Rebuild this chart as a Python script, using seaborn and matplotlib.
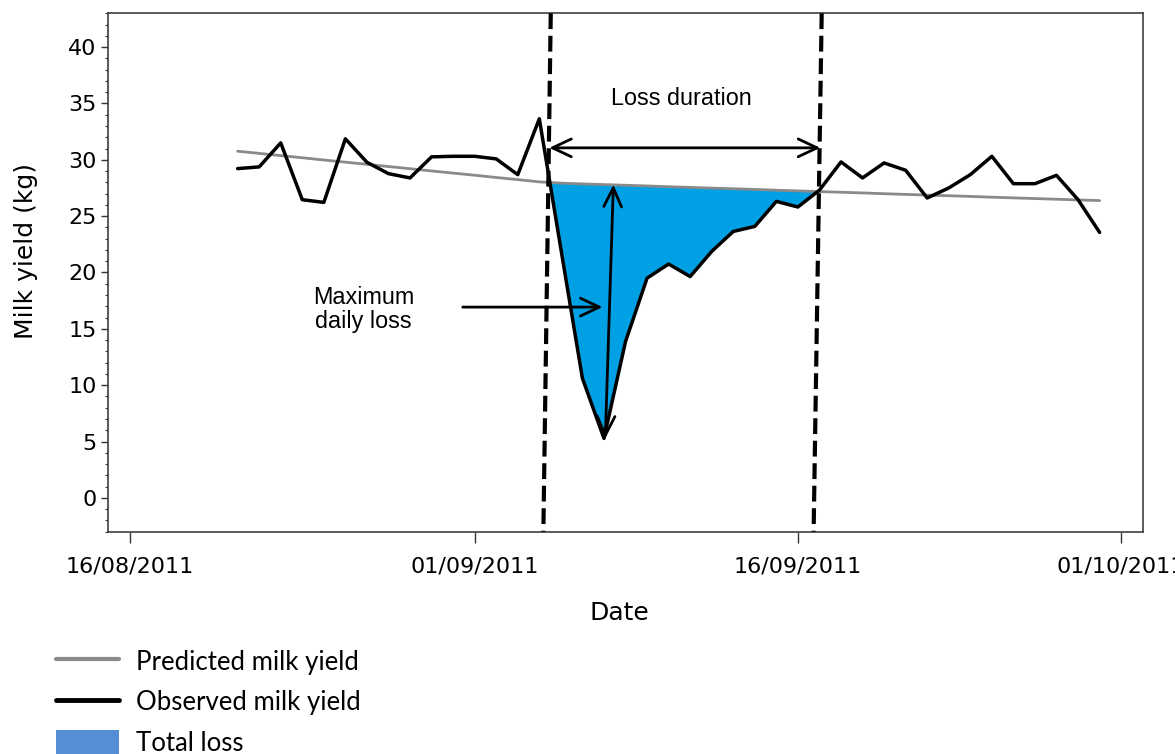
import numpy as np
import pandas as pd
import matplotlib
matplotlib.use("Agg")
import matplotlib.pyplot as plt
import matplotlib.dates as mdates
from matplotlib.ticker import MultipleLocator
from matplotlib.lines import Line2D
from matplotlib.patches import Patch
import seaborn as sns

# Daily milk yield of one cow, 21/08/2011 - 30/09/2011 (kg)
dates = pd.date_range("2011-08-21", "2011-09-30", freq="D")
observed = [29.22, 29.37, 31.50, 26.46, 26.22, 31.86, 29.78, 28.77, 28.39, 30.26,
            30.31, 30.31, 30.08, 28.68, 33.64, 22.10, 10.61, 5.28, 13.87, 19.50,
            20.75, 19.64, 21.87, 23.64, 24.09, 26.31, 25.81, 27.31, 29.81, 28.39,
            29.72, 29.07, 26.61, 27.50, 28.68, 30.31, 27.88, 27.88, 28.62, 26.46, 23.56]
predicted = [30.76, 30.57, 30.37, 30.18, 29.98, 29.79, 29.60, 29.40, 29.21, 29.01,
             28.82, 28.63, 28.43, 28.24, 28.04, 27.93, 27.86, 27.80, 27.74, 27.68,
             27.61, 27.55, 27.49, 27.43, 27.37, 27.30, 27.24, 27.18, 27.12, 27.06,
             26.99, 26.93, 26.87, 26.81, 26.75, 26.68, 26.62, 26.56, 26.50, 26.44, 26.38]

# Loss episode boundaries (start / end of the yield drop)
loss_first_day = pd.Timestamp("2011-09-04")
loss_last_day = pd.Timestamp("2011-09-17")
start_line = [pd.Timestamp("2011-09-04 12:45"), pd.Timestamp("2011-09-04 04:30")]
end_line = [pd.Timestamp("2011-09-17 02:30"), pd.Timestamp("2011-09-16 17:30")]

tick_dates = pd.to_datetime(["2011-08-16", "2011-09-01", "2011-09-16", "2011-10-01"])

df = pd.DataFrame({"date": dates, "observed": observed, "predicted": predicted})

sns.set_style("white")
plt.rcParams["font.family"] = ["DejaVu Sans"]
plt.rcParams["text.color"] = "black"
plt.rcParams["axes.labelcolor"] = "black"
plt.rcParams["xtick.labelcolor"] = "black"
plt.rcParams["ytick.labelcolor"] = "black"

GREY = "#8a8a8a"
FILL = "#00A1E4"
LEGEND_FILL = "#558ED5"
ANNOT_FONT = {"family": "Liberation Sans", "size": 16.8, "color": "black"}

fig = plt.figure(figsize=(11.75, 7.54), dpi=100)
ax = fig.add_axes([0.0922, 0.2948, 0.8803, 0.6876])

ylim = (-3, 43)
ax.set_xlim(pd.Timestamp("2011-08-15"), pd.Timestamp("2011-10-02"))
ax.set_ylim(*ylim)

# Total loss area between predicted and observed during the episode
in_loss = (df["date"] >= loss_first_day) & (df["date"] <= loss_last_day)
seg = df[in_loss]
ax.fill_between(seg["date"], seg["observed"], seg["predicted"],
                where=seg["observed"] < seg["predicted"], interpolate=True,
                color=FILL, lw=0, zorder=2)

sns.lineplot(data=df, x="date", y="predicted", color=GREY, lw=2.0, ax=ax, zorder=3)
sns.lineplot(data=df, x="date", y="observed", color="black", lw=2.5, ax=ax, zorder=4)

# Dashed boundaries of the loss episode
for line in (start_line, end_line):
    ax.plot(line, [ylim[1], ylim[0]], color="black", lw=3.0,
            linestyle=(0, (3.8, 1.6)), zorder=5, clip_on=False)

arrow_kw = dict(lw=2.0, color="black", shrinkA=0, shrinkB=0, mutation_scale=20)

# Loss duration arrow
arrow_y = 31.06
ax.annotate("", xy=(pd.Timestamp("2011-09-04 11:00"), arrow_y),
            xytext=(pd.Timestamp("2011-09-17 01:00"), arrow_y),
            arrowprops=dict(arrowstyle="<->,head_length=0.68,head_width=0.32", **arrow_kw),
            zorder=6)
ax.text(pd.Timestamp("2011-09-10 14:00"), 35.44, "Loss duration",
        ha="center", va="center", fontdict=ANNOT_FONT)

# Maximum daily loss arrows
i_min = int(np.argmin(observed))
d_min = dates[i_min]
ax.annotate("", xy=(d_min + pd.Timedelta(hours=1.5), observed[i_min]),
            xytext=(d_min + pd.Timedelta(hours=10.5), predicted[i_min]),
            arrowprops=dict(arrowstyle="<->,head_length=0.68,head_width=0.32", **arrow_kw),
            zorder=6)
ax.annotate("", xy=(pd.Timestamp("2011-09-06 22:30"), 16.93),
            xytext=(pd.Timestamp("2011-08-31 10:45"), 16.93),
            arrowprops=dict(arrowstyle="->,head_length=0.68,head_width=0.32", **arrow_kw),
            zorder=6)
ax.text(pd.Timestamp("2011-08-26 20:00"), 16.68, "Maximum\ndaily loss",
        ha="center", va="center", linespacing=1.05, fontdict=ANNOT_FONT)

# Axes styling
ax.set_xticks(tick_dates)
ax.xaxis.set_major_formatter(mdates.DateFormatter("%d/%m/%Y"))
ax.set_yticks(range(0, 41, 5))
ax.yaxis.set_minor_locator(MultipleLocator(1))
ax.tick_params(axis="x", which="major", direction="out", length=7.7, width=1.0,
               pad=10, labelsize=16, color="#333333", bottom=True)
ax.tick_params(axis="y", which="major", direction="out", length=4.8, width=1.0,
               pad=3.5, labelsize=16, color="#333333", left=True)
ax.tick_params(axis="y", which="minor", direction="out", length=2.4, width=0.8,
               color="#333333", left=True)
for sp in ax.spines.values():
    sp.set_color("#404040")
    sp.set_linewidth(1.2)

ax.set_ylabel("Milk yield (kg)", fontsize=18, color="black")
ax.yaxis.label.set_va("center")
ax.yaxis.set_label_coords(-0.0796, 0.5405)
ax.set_xlabel("Date", fontsize=18, color="black")
ax.xaxis.label.set_va("center")
ax.xaxis.set_label_coords(0.4937, -0.157)

handles = [Line2D([], [], color=GREY, lw=3.0),
           Line2D([], [], color="black", lw=3.5),
           Patch(facecolor=LEGEND_FILL, edgecolor="none")]
labels = ["Predicted milk yield", "Observed milk yield", "Total loss"]
fig.legend(handles, labels, loc="upper left",
           bbox_to_anchor=(56 / 1175, 1 - 649 / 754), frameon=False,
           prop={"family": "Lato", "size": 18.5}, handlelength=2.45,
           handletextpad=0.68, labelspacing=0.58, borderpad=0, borderaxespad=0,
           handleheight=1.05, labelcolor="black")

fig.savefig("out.png", dpi=100)
